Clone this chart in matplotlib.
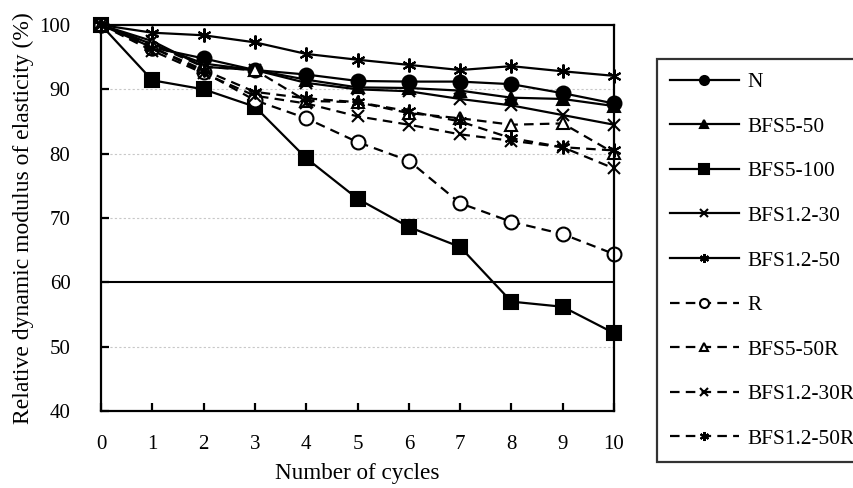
import matplotlib
matplotlib.use("Agg")
import matplotlib.pyplot as plt
import numpy as np

plt.rcParams['font.family'] = ['Liberation Serif', 'DejaVu Serif']

cycles = list(range(11))
series_names = ["N", "BFS5-50", "BFS5-100", "BFS1.2-30", "BFS1.2-50",
                "R", "BFS5-50R", "BFS1.2-30R", "BFS1.2-50R"]

N = [100, 96.5, 94.8, 93.0, 92.3, 91.3, 91.2, 91.2, 90.8, 89.4, 87.8]
BFS5_50 = [100, 97.0, 94.0, 93.0, 91.5, 90.3, 90.2, 89.8, 88.7, 88.5, 87.4]
BFS5_100 = [100, 91.4, 90.0, 87.3, 79.3, 73.0, 68.6, 65.5, 57.0, 56.2, 52.1]
BFS1_2_30 = [100, 97.5, 93.5, 93.0, 91.0, 90.0, 89.7, 88.5, 87.5, 86.0, 84.5]
BFS1_2_50 = [100, 98.8, 98.4, 97.3, 95.5, 94.6, 93.8, 93.0, 93.6, 92.8, 92.1]
R = [100, 96.5, 92.7, 88.3, 85.5, 81.8, 78.9, 72.3, 69.4, 67.5, 64.4]
BFS5_50R = [100, 97.0, 93.5, 93.0, 88.2, 88.0, 86.3, 85.5, 84.5, 84.7, 80.1]
BFS1_2_30R = [100, 96.0, 92.5, 89.0, 87.8, 85.8, 84.5, 83.0, 82.0, 81.0, 77.7]
BFS1_2_50R = [100, 96.5, 93.0, 89.6, 88.6, 88.0, 86.6, 85.0, 82.4, 81.0, 80.5]

data = [N, BFS5_50, BFS5_100, BFS1_2_30, BFS1_2_50, R, BFS5_50R, BFS1_2_30R, BFS1_2_50R]
markers = ['o', '^', 's', 'x', (6, 2, 0), 'o', '^', 'x', (6, 2, 0)]
msizes = [10, 9, 10, 9, 10, 10, 9, 9, 10]
filled = [True, True, True, True, True, False, False, True, True]
dashed = [False] * 5 + [True] * 4

fig = plt.figure(figsize=(8.54, 4.88), dpi=100)
ax = fig.add_axes([0.1183, 0.1578, 0.6007, 0.791])

for vals, name, m, ms, f, d in zip(data, series_names, markers, msizes, filled, dashed):
    line, = ax.plot(cycles, vals, color='black', lw=1.6,
                    marker=m, markersize=ms,
                    markerfacecolor='black' if f else 'white',
                    markeredgecolor='black', markeredgewidth=1.5,
                    label=name, clip_on=False)
    if d:
        line.set_dashes((4.3, 2.8))

ax.set_xlim(0, 10)
ax.set_ylim(40, 100)
ax.set_xticks(cycles)
ax.set_yticks([40, 50, 60, 70, 80, 90, 100])

for gy in [50, 70, 80, 90]:
    ax.axhline(gy, color='#c8c8c8', lw=0.8, dashes=(2, 2), zorder=0)
ax.axhline(60, color='black', lw=1.5, zorder=1)

for s in ax.spines.values():
    s.set_linewidth(1.6)
    s.set_color('black')

ax.tick_params(axis='y', direction='in', length=6, width=1.6, pad=22, labelsize=15)
ax.tick_params(axis='x', direction='in', length=6, width=1.6, pad=17, labelsize=15)

ax.set_xlabel("Number of cycles", fontsize=16.7, labelpad=7)
ax.set_ylabel("Relative dynamic modulus of elasticity (%)", fontsize=17, labelpad=4)

leg = fig.legend(loc='upper left', bbox_to_anchor=(657/854, 1 - 59/488),
                 bbox_transform=fig.transFigure, frameon=True, fancybox=False,
                 edgecolor='black', fontsize=15.4, markerscale=0.65,
                 handlelength=3.2, labelspacing=1.15, borderpad=0.62,
                 handletextpad=0.4, borderaxespad=0)
leg.get_frame().set_linewidth(1.6)

fig.savefig("out.png", dpi=100)
